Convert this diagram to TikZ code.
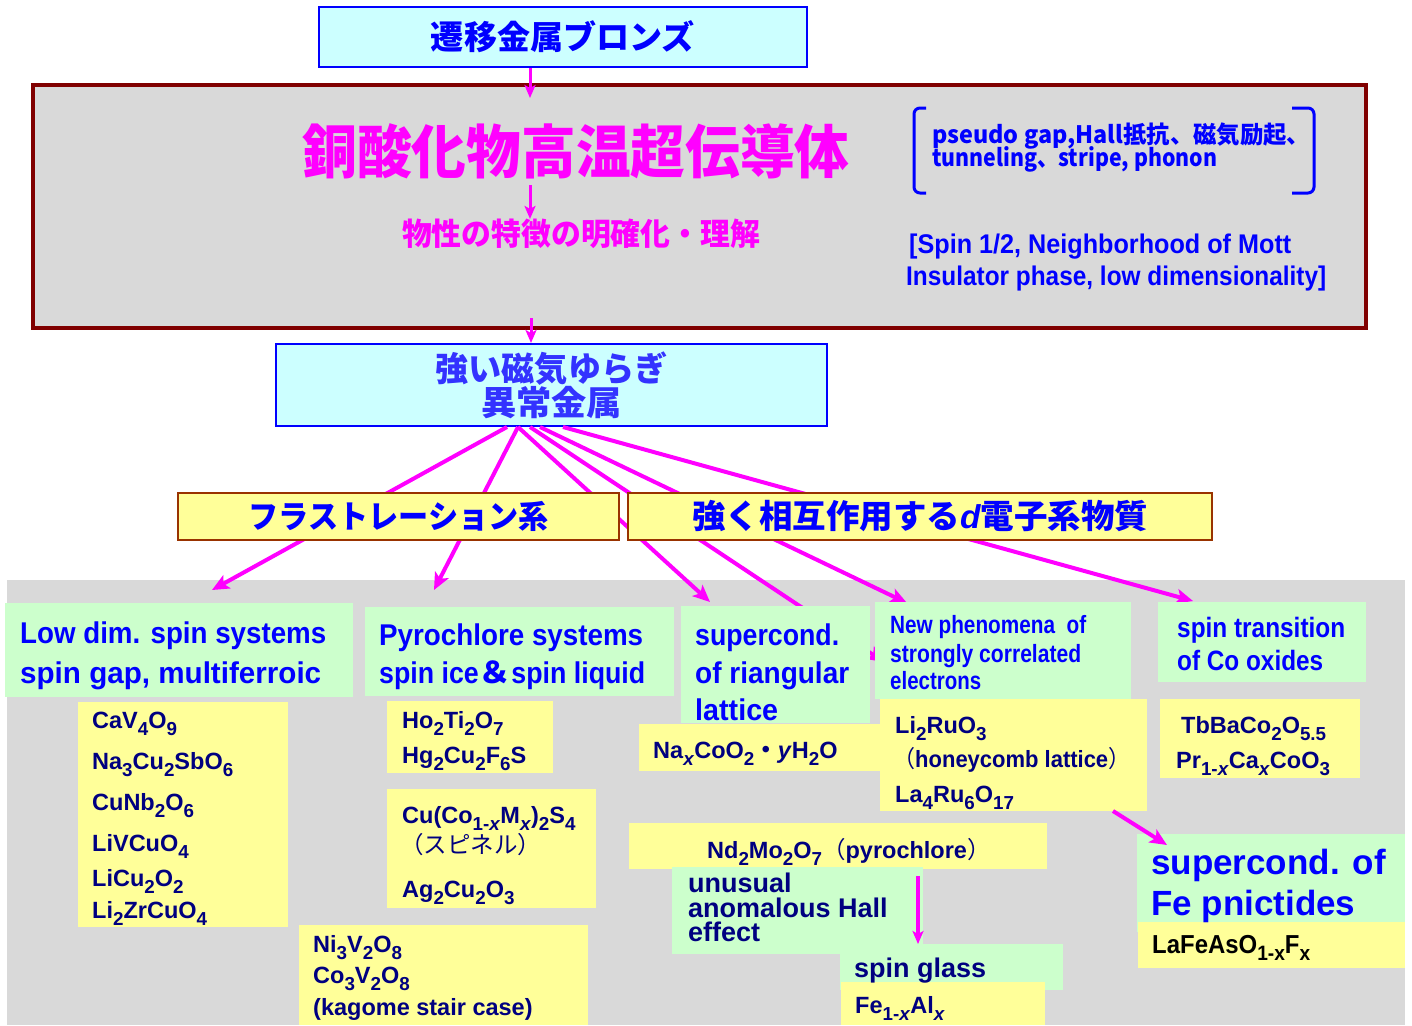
\documentclass[tikz,border=0pt]{standalone}
\usepackage{fontspec}
\usepackage{graphicx}
\usetikzlibrary{arrows.meta}
\setmainfont{Liberation Sans}
\newfontfamily\jp{Noto Sans CJK JP}
\newfontfamily\nar{Liberation Sans}[FakeStretch=0.82]
\newcommand\fw[2]{\resizebox{#1pt}{\height}{#2}}
\newcommand\ssb[1]{\raisebox{-0.3em}{\scalebox{0.8}{#1}}}
\newcommand\fsz[1]{\fontsize{#1pt}{#1pt}\selectfont}
\definecolor{cy}{HTML}{CCFFFF}
\definecolor{grn}{HTML}{CCFFCC}
\definecolor{yl}{HTML}{FFFF99}
\definecolor{gry}{HTML}{D9D9D9}
\definecolor{brd}{HTML}{800000}
\definecolor{brn}{HTML}{993300}
\definecolor{navy}{HTML}{000080}
\definecolor{mag}{HTML}{FF00FF}
\definecolor{bl}{HTML}{0000FF}
\definecolor{bl2}{HTML}{3333FF}
\tikzset{
  cbox/.style={rectangle, fill=cy, draw=bl, line width=2pt, inner sep=0pt},
  ybox/.style={rectangle, fill=yl, draw=brn, line width=2pt, inner sep=0pt},
  gbox/.style={rectangle, fill=grn, inner sep=0pt, outer sep=0pt, anchor=north west},
  yfill/.style={rectangle, fill=yl, inner sep=0pt, outer sep=0pt, anchor=north west},
  txt/.style={anchor=base west, inner sep=0pt},
  bt/.style={txt, text=bl, font=\nar\bfseries\fsz{30}},
  ct/.style={txt, text=navy, font=\bfseries\fsz{23.5}},
  atxt/.style={txt, text=navy, font=\bfseries\fsz{27}},
  arr/.style={draw=mag, line width=4pt, -{Stealth[length=17pt,width=15pt,inset=4pt]}},
  arrs/.style={draw=mag, line width=3pt, -{Stealth[length=13pt,width=11pt,inset=3pt]}},
}
\begin{document}
\begin{tikzpicture}[x=1pt,y=-1pt]
\useasboundingbox (0,0) rectangle (1412,1025);
\fill[white] (0,0) rectangle (1412,1025);
% bottom gray area
\fill[gry] (7,580) rectangle (1405,1025);

% top boxes
\node[cbox, minimum width=488pt, minimum height=60pt, font=\jp\bfseries\fsz{33}, text=bl] (top) at (563,37) {\fw{264}{遷移金属ブロンズ}};
\node[rectangle, fill=gry, draw=brd, line width=4pt, minimum width=1333pt, minimum height=243pt, inner sep=0pt] (big) at (699.5,206.5) {};
\node[inner sep=0pt, font=\jp\bfseries\fsz{58}, text=mag] (title) at (576,151) {\fw{547}{銅酸化物高温超伝導体}};
\node[inner sep=0pt, font=\jp\bfseries\fsz{31}, text=mag] (sub) at (581,234) {\fw{358}{物性の特徴の明確化・理解}};
\node[txt, font=\jp\bfseries\fsz{24}, text=bl] (br1) at (932,143) {\fw{378}{pseudo gap,Hall抵抗、磁気励起、}};
\node[txt, font=\jp\bfseries\fsz{24}, text=bl] (br2) at (932,166) {\fw{285}{tunneling、stripe, phonon}};
\draw[bl, line width=3pt, rounded corners=6pt] (926,108) -- (914,108) -- (914,193) -- (926,193);
\draw[bl, line width=3pt, rounded corners=6pt] (1292,108) -- (1314,108) -- (1314,193) -- (1292,193);
\node[txt, font=\nar\bfseries\fsz{27}, text=bl] (sp1) at (909,253) {\fw{382}{[Spin 1/2, Neighborhood of Mott}};
\node[txt, font=\nar\bfseries\fsz{27}, text=bl] (sp2) at (906,285) {\fw{420}{Insulator phase, low dimensionality]}};

\node[cbox, minimum width=551pt, minimum height=82pt, align=center, font=\jp\bfseries\fontsize{34pt}{33pt}\selectfont, text=bl2] (mag) at (551.5,385) {\fw{232}{強い磁気ゆらぎ}\\\fw{141}{異常金属}};

% top arrows
\draw[arrs] ([xshift=-33pt]top.south) -- ++(0,30);
\coordinate (t0) at (530,185);
\draw[arrs] (t0) -- (t0 |- sub.north);
\coordinate (t1) at (531,318);
\draw[arrs] (t1) -- (t1 |- mag.north);

% arrows from mag
\coordinate (e1) at (212,590);
\coordinate (e2) at (434,590);
\coordinate (e3) at (710,602);
\coordinate (e4) at (884,662);
\coordinate (e5) at (907,603);
\coordinate (e6) at (1193,601);
\draw[arr] ([xshift=-44.5pt]mag.south) -- (e1);
\draw[arr] ([xshift=-33.5pt]mag.south) -- (e2);
\draw[arr] ([xshift=-33.5pt]mag.south) -- (e3);
\draw[arr] ([xshift=-21.5pt]mag.south) -- (e4);
\draw[arr] ([xshift=-11.5pt]mag.south) -- (e5);
\draw[arr] ([xshift=11.5pt]mag.south) -- (e6);

% category boxes
\node[ybox, minimum width=441pt, minimum height=47pt, font=\jp\bfseries\fsz{32}, text=bl] (frus) at (398.5,516.5) {\fw{300}{フラストレーション系}};
\node[ybox, minimum width=584pt, minimum height=47pt, font=\jp\bfseries\fsz{33}, text=bl] (strong) at (920,516.5) {\fw{456}{強く相互作用する{\rmfamily\itshape d}電子系物質}};

% bottom boxes
\node[gbox, minimum width=348pt, minimum height=94pt] (lowdim) at (5,603) {};
\node[gbox, minimum width=309pt, minimum height=89pt] (pyro) at (365,607) {};
\node[yfill, minimum width=210pt, minimum height=225pt] (y1) at (78,702) {};
\node[yfill, minimum width=166pt, minimum height=72pt] (y2) at (387,701) {};
\node[yfill, minimum width=209pt, minimum height=119pt] (y3) at (387,789) {};
\node[yfill, minimum width=289pt, minimum height=100pt] (y4) at (299,925) {};
\node[gbox, minimum width=189pt, minimum height=117pt] (sctri) at (681,606) {};
\node[yfill, minimum width=241pt, minimum height=47pt] (nacoo) at (639,724) {};
\node[gbox, minimum width=256pt, minimum height=97pt] (newph) at (875,602) {};
\node[yfill, minimum width=267pt, minimum height=112pt] (liru) at (880,699) {};
\node[gbox, minimum width=208pt, minimum height=80pt] (spintr) at (1158,602) {};
\node[yfill, minimum width=200pt, minimum height=79pt] (tbba) at (1160,699) {};
\node[yfill, minimum width=418pt, minimum height=46pt] (nd) at (629,823) {};
\node[gbox, minimum width=251pt, minimum height=87pt] (unus) at (672,867) {};
\node[gbox, minimum width=223pt, minimum height=46pt] (sg) at (840,944) {};
\node[yfill, minimum width=204pt, minimum height=43pt] (feal) at (841,982) {};
\node[gbox, minimum width=268pt, minimum height=98pt] (fe) at (1137,834) {};
\node[yfill, minimum width=267pt, minimum height=46pt] (lafe) at (1138,922) {};

% texts in green boxes
\node[bt] (l1) at (20,643) {\fw{306}{Low dim. spin systems}};
\node[bt] (l2) at (20,683) {\fw{301}{spin gap, multiferroic}};
\node[bt] (p1) at (379,645) {\fw{264}{Pyrochlore systems}};
\node[bt] (p2) at (379,683) {\fw{266}{spin ice{\jp ＆}spin liquid}};
\node[bt] (s1) at (695,645) {\fw{144}{supercond.}};
\node[bt] (s2) at (695,683) {\fw{154}{of riangular}};
\node[bt] (s3) at (695,720) {\fw{83}{lattice}};
\node[bt, font=\nar\bfseries\fsz{25}] (n1) at (890,633) {\fw{196}{New phenomena\ \ of}};
\node[bt, font=\nar\bfseries\fsz{25}] (n2) at (890,662) {\fw{191}{strongly correlated}};
\node[bt, font=\nar\bfseries\fsz{25}] (n3) at (890,689) {\fw{91}{electrons}};
\node[bt, font=\nar\bfseries\fsz{28}] (tr1) at (1177,637) {\fw{168}{spin transition}};
\node[bt, font=\nar\bfseries\fsz{28}] (tr2) at (1177,670) {\fw{146}{of Co oxides}};

% compounds
\node[ct] (c1) at (92,728) {CaV\ssb{4}O\ssb{9}};
\node[ct] (c2) at (92,769) {Na\ssb{3}Cu\ssb{2}SbO\ssb{6}};
\node[ct] (c3) at (92,810) {CuNb\ssb{2}O\ssb{6}};
\node[ct] (c4) at (92,851) {LiVCuO\ssb{4}};
\node[ct] (c5) at (92,886) {LiCu\ssb{2}O\ssb{2}};
\node[ct] (c6) at (92,918) {Li\ssb{2}ZrCuO\ssb{4}};
\node[ct] (h1) at (402,728) {Ho\ssb{2}Ti\ssb{2}O\ssb{7}};
\node[ct] (h2) at (402,763) {Hg\ssb{2}Cu\ssb{2}F\ssb{6}S};
\node[ct] (u1) at (402,823) {Cu(Co\ssb{1-\textit{x}}M\ssb{\textit{x}})\ssb{2}S\ssb{4}};
\node[ct] (u2) at (400,853) {{\jp\mdseries （スピネル）}};
\node[ct] (u3) at (402,897) {Ag\ssb{2}Cu\ssb{2}O\ssb{3}};
\node[ct] (v1) at (313,952) {Ni\ssb{3}V\ssb{2}O\ssb{8}};
\node[ct] (v2) at (313,983) {Co\ssb{3}V\ssb{2}O\ssb{8}};
\node[ct] (v3) at (313,1015) {(kagome stair case)};
\node[ct] (na) at (653,758) {Na\ssb{\textit{x}}CoO\ssb{2}{\jp ・}\textit{y}H\ssb{2}O};
\node[ct] (r1) at (895,733) {Li\ssb{2}RuO\ssb{3}};
\node[ct] (r2) at (893,767) {\fw{237}{{\jp\mdseries （}honeycomb lattice{\jp\mdseries ）}}};
\node[ct] (r3) at (895,802) {La\ssb{4}Ru\ssb{6}O\ssb{17}};
\node[ct] (b1) at (1181,733) {TbBaCo\ssb{2}O\ssb{5.5}};
\node[ct] (b2) at (1176,768) {Pr\ssb{1-\textit{x}}Ca\ssb{\textit{x}}CoO\ssb{3}};
\node[ct] (ndt) at (707,858) {Nd\ssb{2}Mo\ssb{2}O\ssb{7}{\jp\mdseries （}pyrochlore{\jp\mdseries ）}};
\node[atxt, anchor=north west, align=left, font=\bfseries\fontsize{27pt}{24.5pt}\selectfont] (un) at (688,873) {unusual\\anomalous Hall\\effect};
\node[atxt] (sgt) at (854,977) {spin glass};
\node[ct] (fat) at (855,1013) {Fe\ssb{1-\textit{x}}Al\ssb{\textit{x}}};
\node[txt, text=bl, font=\bfseries\fsz{35}] (fe1) at (1151,874) {supercond. of};
\node[txt, text=bl, font=\bfseries\fsz{35}] (fe2) at (1151,915) {Fe pnictides};
\node[txt, text=black, font=\nar\bfseries\fsz{26}] (lft) at (1152,953) {\fw{158}{LaFeAsO\ssb{1-x}F\ssb{x}}};

% arrows in the lower part
\draw[arr] ([xshift=99.5pt]liru.south) -- ([xshift=30pt,yshift=-11pt]fe.north west);
\draw[arrs, line width=3.5pt] ([xshift=80pt,yshift=-7pt]nd.south) -- ([xshift=80pt]nd.south |- sg.north);
\end{tikzpicture}
\end{document}
